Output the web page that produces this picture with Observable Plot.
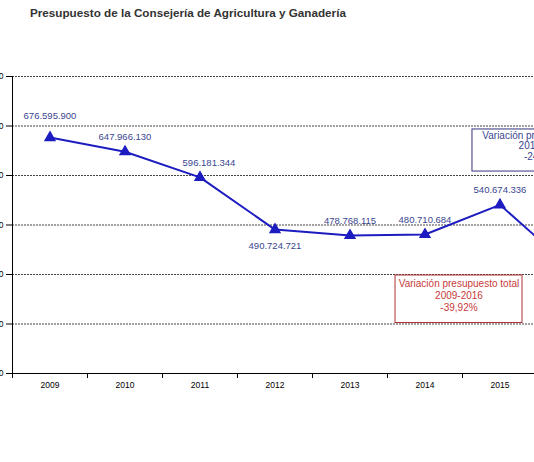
<!DOCTYPE html>
<html>
<head>
<meta charset="utf-8">
<script src="https://cdn.jsdelivr.net/npm/d3@7"></script>
<script src="https://cdn.jsdelivr.net/npm/@observablehq/plot@0.6"></script>
<style>
  html, body { margin: 0; padding: 0; background: #fff; overflow: hidden; }
  #wrap { position: relative; width: 534px; height: 462px; overflow: hidden; font-family: "Liberation Sans", Arial, sans-serif; }
  #title { position: absolute; left: 30px; top: 6px; font-size: 11.7px; font-weight: bold; color: #333; white-space: nowrap; z-index: 2; }
  #chart { position: absolute; left: -88px; top: 0; width: 720px; height: 462px; }
  #chart svg { max-width: none !important; width: 720px; height: 462px; display: block; }
</style>
</head>
<body>
<div id="wrap">
  <div id="title">Presupuesto de la Consejería de Agricultura y Ganadería</div>
  <div id="chart"></div>
</div>
<script>
const years = [2009, 2010, 2011, 2012, 2013, 2014, 2015, 2016];
const budget = [676595900, 647966130, 596181344, 490724721, 478768115, 480710684, 540674336, 406498817];
const yTicks = [200000000, 300000000, 400000000, 500000000, 600000000, 700000000, 800000000];
const gridValues = [300000000, 400000000, 500000000, 600000000, 700000000, 800000000];
const yearBounds = [2008.5, 2009.5, 2010.5, 2011.5, 2012.5, 2013.5, 2014.5, 2015.5, 2016.5];

const totalNote = ["Variación presupuesto total", "2009-2016", "-39,92%"];
const totalNoteBox = {x1: 2013.607, x2: 2015.3, y1: 302000000, y2: 398000000, x: 2014.453, y: 392000000};
const lastNote = ["Variación presupuesto total", "2015-2016", "-24,82%"];
const lastNoteBox = {x1: 2014.633, x2: 2016.48, y1: 608000000, y2: 693000000, x: 2015.567, y: 689000000};

const locale = d3.formatLocale({decimal: ",", thousands: ".", grouping: [3], currency: ["", "€"]});
const fmt = locale.format(",d");

const data = years.map((year, i) => ({year, value: budget[i], label: fmt(budget[i])}));

const lineColor = "#1c1cc0";
const labelColor = "#3a4690";
const redColor = "#c83a3a";

const above = data.filter(d => [2010, 2013, 2014, 2015].includes(d.year));
const farAbove = data.filter(d => d.year === 2009);
const aboveRight = data.filter(d => d.year === 2011);
const below = data.filter(d => [2012, 2016].includes(d.year));

const chart = Plot.plot({
  width: 720,
  height: 462,
  marginLeft: 100,
  marginRight: 20,
  marginTop: 76,
  marginBottom: 89,
  style: {fontFamily: "Liberation Sans, Arial, sans-serif", background: "transparent"},
  x: {type: "linear", domain: [2008.5, 2016.5]},
  y: {domain: [200000000, 800000000]},
  marks: [
    Plot.ruleY(gridValues, {stroke: "#444", strokeDasharray: "2,1", strokeWidth: 1}),
    Plot.ruleY([200000000], {stroke: "#000", strokeWidth: 1}),
    Plot.ruleX([2008.5], {stroke: "#000", strokeWidth: 1}),
    Plot.axisY({ticks: yTicks, tickSize: 6, tickPadding: 3, tickFormat: fmt, fontSize: 8.5, stroke: "#000", color: "#000", label: null}),
    Plot.axisX({ticks: yearBounds, tickSize: 5, tickFormat: () => "", stroke: "#000", label: null}),
    Plot.axisX({ticks: years, tickSize: 0, tickPadding: 8, tickFormat: d => String(d), fontSize: 8.5, color: "#000", label: null}),
    Plot.line(data, {x: "year", y: "value", stroke: lineColor, strokeWidth: 2}),
    Plot.dot(data, {x: "year", y: "value", symbol: "triangle", r: 3.6, fill: lineColor, stroke: lineColor}),
    Plot.text(above, {x: "year", y: "value", text: "label", dy: -15, fontSize: 9.5, fill: labelColor}),
    Plot.text(farAbove, {x: "year", y: "value", text: "label", dy: -22, fontSize: 9.5, fill: labelColor}),
    Plot.text(aboveRight, {x: "year", y: "value", text: "label", dy: -14, dx: 9, fontSize: 9.5, fill: labelColor}),
    Plot.text(below, {x: "year", y: "value", text: "label", dy: 16, fontSize: 9.5, fill: labelColor}),
    Plot.rect([totalNoteBox], {x1: "x1", x2: "x2", y1: "y1", y2: "y2", fill: "#fff", stroke: "#b03030", strokeWidth: 1}),
    Plot.text([totalNoteBox], {x: "x", y: "y", text: () => totalNote.join("\n"), lineAnchor: "top", lineHeight: 1.2, fontSize: 10, fill: redColor}),
    Plot.rect([lastNoteBox], {x1: "x1", x2: "x2", y1: "y1", y2: "y2", fill: "#fff", stroke: "#33337a", strokeWidth: 1}),
    Plot.text([lastNoteBox], {x: "x", y: "y", text: () => lastNote.join("\n"), lineAnchor: "top", lineHeight: 1.05, fontSize: 10, fill: labelColor})
  ]
});
document.getElementById("chart").appendChild(chart);
</script>
</body>
</html>
